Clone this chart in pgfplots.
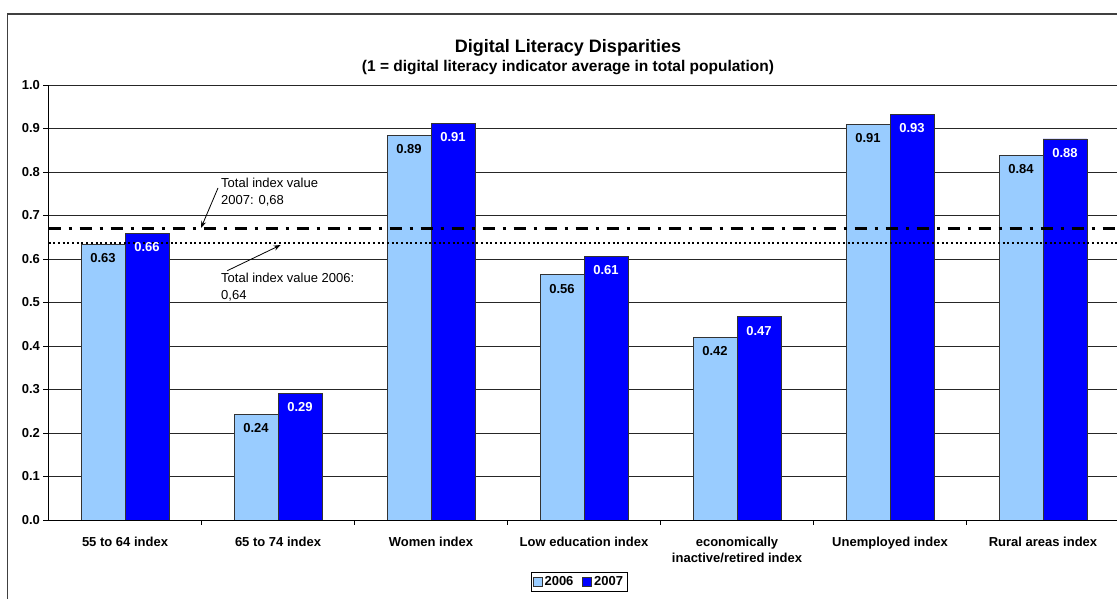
\documentclass[border=0pt]{standalone}
\usepackage{fontspec}
\setmainfont{Liberation Sans}
\usepackage{pgfplots}
\pgfplotsset{compat=1.18}
\usetikzlibrary{arrows.meta}
\definecolor{lightbar}{HTML}{99CCFF}
\definecolor{darkbar}{HTML}{0000FF}
\begin{document}
\begin{tikzpicture}[x=1pt,y=1pt]
\useasboundingbox (0,0) rectangle (1117,599);
\clip (0,0) rectangle (1117,599);
\fill[white] (0,0) rectangle (1117,599);
\draw[line width=1.5pt, black!75] (7.5,-30) rectangle (1160,585);
\begin{axis}[
  at={(48.5pt,79pt)}, anchor=south west,
  scale only axis, width=1071pt, height=435pt,
  xmin=-0.5, xmax=6.5, ymin=0, ymax=1,
  axis lines*=left,
  axis line style={black, line width=0.8pt},
  ytick={0,0.1,0.2,0.3,0.4,0.5,0.6,0.7,0.8,0.9,1},
  ymajorgrids, grid style={black!85, line width=0.8pt},
  yticklabel style={font=\bfseries\fontsize{13}{15}\selectfont, /pgf/number format/.cd, fixed, fixed zerofill, precision=1, assume math mode=true},
  xtick={0,1,2,3,4,5,6},
  xticklabels={55 to 64 index, 65 to 74 index, Women index, Low education index, {economically\\inactive/retired index}, Unemployed index, Rural areas index},
  x tick label style={align=center, font=\bfseries\fontsize{13}{16}\selectfont, yshift=-9pt},
  major x tick style={draw=none},
  minor xtick={0.5,1.5,2.5,3.5,4.5,5.5},
  tick align=outside, major tick length=5pt, minor tick length=5pt,
  tick style={black, line width=0.8pt},
  legend columns=2,
  legend style={at={(0.4953,-0.1425)}, anchor=center, draw=black, line width=0.6pt, font=\bfseries\fontsize{13}{15}\selectfont, inner sep=2pt, /tikz/every even column/.append style={column sep=7pt}},
  legend image code/.code={\draw[#1, line width=0.6pt] (0pt,-4.5pt) rectangle (9pt,4.5pt);},
]
\addplot[ybar, bar width=44pt, bar shift=-22pt, fill=lightbar, draw=black!80, line width=0.8pt,
  point meta=explicit symbolic, nodes near coords,
  nodes near coords style={anchor=center, xshift=-22pt, yshift=-14pt, font=\bfseries\fontsize{13}{15}\selectfont, text=black}]
  coordinates {(0,0.634)[0.63] (1,0.243)[0.24] (2,0.885)[0.89] (3,0.564)[0.56] (4,0.420)[0.42] (5,0.910)[0.91] (6,0.839)[0.84]};
\addlegendentry{2006}
\addplot[ybar, bar width=44pt, bar shift=22pt, fill=darkbar, draw=black!80, line width=0.8pt,
  point meta=explicit symbolic, nodes near coords,
  nodes near coords style={anchor=center, xshift=22pt, yshift=-14pt, font=\bfseries\fontsize{13}{15}\selectfont, text=white}]
  coordinates {(0,0.659)[0.66] (1,0.291)[0.29] (2,0.912)[0.91] (3,0.606)[0.61] (4,0.467)[0.47] (5,0.933)[0.93] (6,0.876)[0.88]};
\addlegendentry{2007}
\addplot[forget plot, sharp plot, black, line width=2.6pt, dash pattern=on 12pt off 8pt on 3pt off 8pt] coordinates {(-0.5,0.6697) (6.5,0.6697)};
\addplot[forget plot, sharp plot, black, line width=2pt, dash pattern=on 2pt off 2.7pt] coordinates {(-0.5,0.6375) (6.5,0.6375)};
\end{axis}
\node[font=\bfseries\fontsize{18}{21}\selectfont] at (568,551) {Digital Literacy Disparities};
\node[font=\bfseries\fontsize{15.5}{18}\selectfont] at (568,531) {(1 = digital literacy indicator average in total population)};
\node[font=\fontsize{13}{17}\selectfont, align=left, anchor=west, inner sep=0pt] at (221,406.5) {Total index value\\2007: 0,68};
\node[font=\fontsize{13}{17}\selectfont, align=left, anchor=west, inner sep=0pt] at (221,311.5) {Total index value 2006:\\0,64};
\draw[line width=0.8pt, -{Stealth[length=7pt,width=5pt]}] (218,411) -- (201,371);
\draw[line width=0.8pt, -{Stealth[length=7pt,width=5pt]}] (227.3,328.3) -- (280.7,354);
\end{tikzpicture}
\end{document}
